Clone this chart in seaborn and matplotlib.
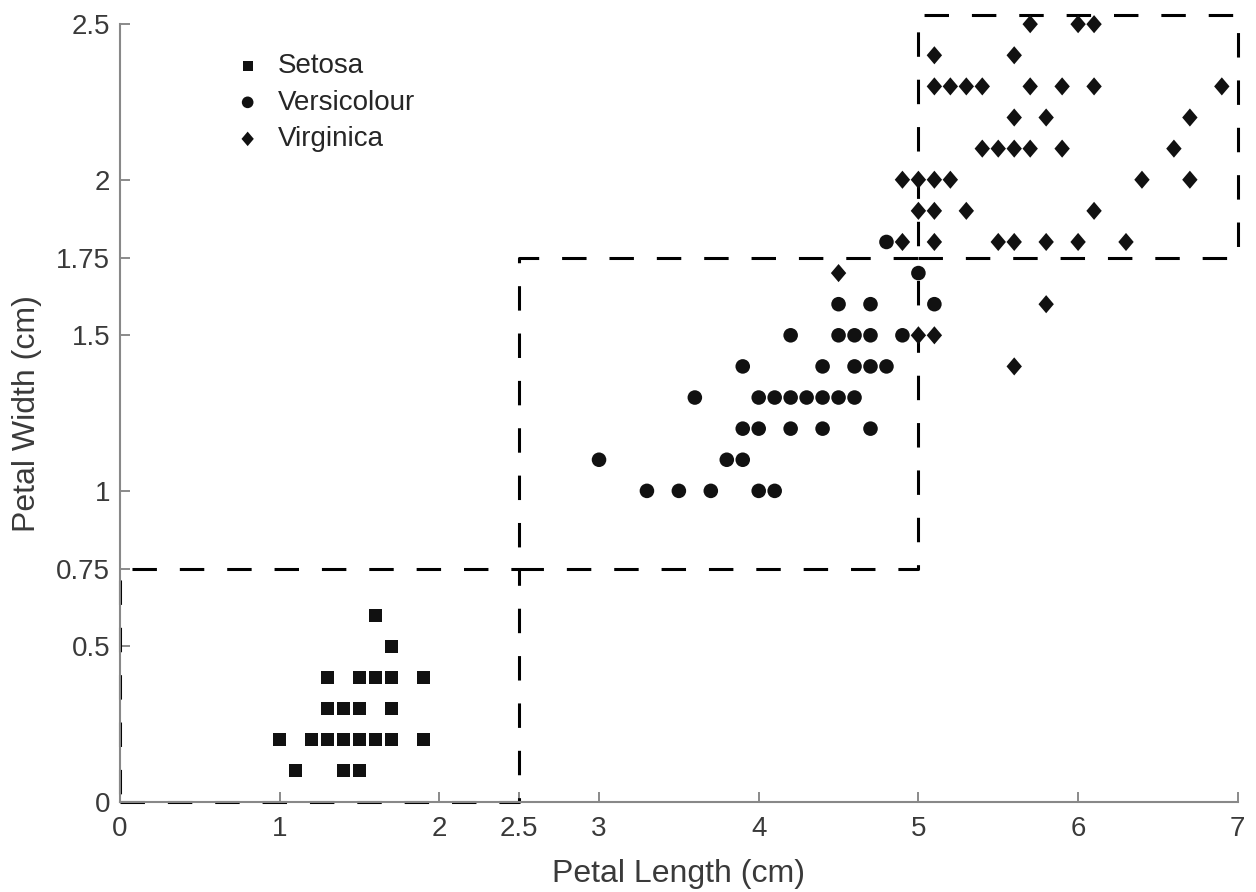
import matplotlib
matplotlib.use("Agg")
import matplotlib.pyplot as plt
import seaborn as sns
import pandas as pd

# petal length / width, row by row
setosa_len = [1.6, 1.7,
              1.3, 1.5, 1.6, 1.7, 1.9,
              1.3, 1.4, 1.5, 1.7,
              1.0, 1.2, 1.3, 1.4, 1.5, 1.6, 1.7, 1.9,
              1.1, 1.4, 1.5]
setosa_wid = [0.6, 0.5,
              0.4, 0.4, 0.4, 0.4, 0.4,
              0.3, 0.3, 0.3, 0.3,
              0.2, 0.2, 0.2, 0.2, 0.2, 0.2, 0.2, 0.2,
              0.1, 0.1, 0.1]

versi_len = [4.8,
             5.0,
             4.5, 4.7, 5.1,
             4.2, 4.5, 4.6, 4.7, 4.9,
             3.9, 4.4, 4.6, 4.7, 4.8,
             3.6, 4.0, 4.1, 4.2, 4.3, 4.4, 4.5, 4.6,
             3.9, 4.0, 4.2, 4.4, 4.7,
             3.0, 3.8, 3.9,
             3.3, 3.5, 3.7, 4.0, 4.1]
versi_wid = [1.8,
             1.7,
             1.6, 1.6, 1.6,
             1.5, 1.5, 1.5, 1.5, 1.5,
             1.4, 1.4, 1.4, 1.4, 1.4,
             1.3, 1.3, 1.3, 1.3, 1.3, 1.3, 1.3, 1.3,
             1.2, 1.2, 1.2, 1.2, 1.2,
             1.1, 1.1, 1.1,
             1.0, 1.0, 1.0, 1.0, 1.0]

virg_len = [5.7, 6.0, 6.1,
            5.1, 5.6,
            5.1, 5.2, 5.3, 5.4, 5.7, 5.9, 6.1, 6.9,
            5.6, 5.8, 6.7,
            5.4, 5.5, 5.6, 5.7, 5.9, 6.6,
            4.9, 5.0, 5.1, 5.2, 6.4, 6.7,
            5.0, 5.1, 5.3, 6.1,
            4.9, 5.1, 5.5, 5.6, 5.8, 6.0, 6.3,
            4.5, 5.8, 5.0, 5.1, 5.6]
virg_wid = [2.5, 2.5, 2.5,
            2.4, 2.4,
            2.3, 2.3, 2.3, 2.3, 2.3, 2.3, 2.3, 2.3,
            2.2, 2.2, 2.2,
            2.1, 2.1, 2.1, 2.1, 2.1, 2.1,
            2.0, 2.0, 2.0, 2.0, 2.0, 2.0,
            1.9, 1.9, 1.9, 1.9,
            1.8, 1.8, 1.8, 1.8, 1.8, 1.8, 1.8,
            1.7, 1.6, 1.5, 1.5, 1.4]

x_ticks = [0, 1, 2, 2.5, 3, 4, 5, 6, 7]
x_tick_labels = ["0", "1", "2", "2.5", "3", "4", "5", "6", "7"]
y_ticks = [0, 0.5, 0.75, 1, 1.5, 1.75, 2, 2.5]
y_tick_labels = ["0", "0.5", "0.75", "1", "1.5", "1.75", "2", "2.5"]

# decision regions (x0, x1, y0, y1)
boxes = [(0, 2.5, 0, 0.75), (2.5, 5, 0.75, 1.75), (5, 7, 1.75, 2.53)]

df = pd.DataFrame({
    "length": setosa_len + versi_len + virg_len,
    "width": setosa_wid + versi_wid + virg_wid,
    "species": ["Setosa"] * len(setosa_len) + ["Versicolour"] * len(versi_len)
               + ["Virginica"] * len(virg_len),
})

sns.set_style("ticks")
plt.rcParams["font.family"] = ["Liberation Sans", "DejaVu Sans"]

fig = plt.figure(figsize=(12.56, 8.92), dpi=100)
ax = fig.add_axes([0.0955, 0.1009, 0.890, 0.872])

dash = (0, (8, 7.5))
for x0, x1, y0, y1 in boxes:
    ax.plot([x0, x1, x1, x0, x0], [y0, y0, y1, y1, y0], color="black",
            lw=2.2, linestyle=dash, clip_on=False, zorder=1)

diamond = [(0, 1), (0.85, 0), (0, -1), (-0.85, 0), (0, 1)]
markers = {"Setosa": "s", "Versicolour": "o", "Virginica": diamond}
sizes = {"Setosa": 85, "Versicolour": 110, "Virginica": 170}
for sp, m in markers.items():
    sub = df[df["species"] == sp]
    sns.scatterplot(data=sub, x="length", y="width", marker=m, s=sizes[sp],
                    color="#111111", edgecolor="none", label=sp, ax=ax,
                    clip_on=False, zorder=3)

ax.set_xlim(0, 7)
ax.set_ylim(0, 2.5)
ax.set_xticks(x_ticks)
ax.set_xticklabels(x_tick_labels)
ax.set_yticks(y_ticks)
ax.set_yticklabels(y_tick_labels)
ax.tick_params(direction="in", length=7, width=1.2, color="#777777",
               labelsize=20, labelcolor="#3a3a3a")
ax.tick_params(axis="x", pad=10)
ax.tick_params(axis="y", pad=7)
for side in ["top", "right"]:
    ax.spines[side].set_visible(False)
for side in ["left", "bottom"]:
    ax.spines[side].set_color("#888888")
    ax.spines[side].set_linewidth(1.5)

ax.set_xlabel("Petal Length (cm)", fontsize=23, color="#3a3a3a", labelpad=12)
ax.set_ylabel("Petal Width (cm)", fontsize=23, color="#3a3a3a", labelpad=10)

ax.legend(loc="upper left", bbox_to_anchor=(0.072, 0.995), frameon=False,
          prop={"size": 20}, handletextpad=0.3, labelspacing=0.38,
          markerscale=0.8, handlelength=1.6)

fig.savefig("out.png", dpi=100)
plt.close(fig)
